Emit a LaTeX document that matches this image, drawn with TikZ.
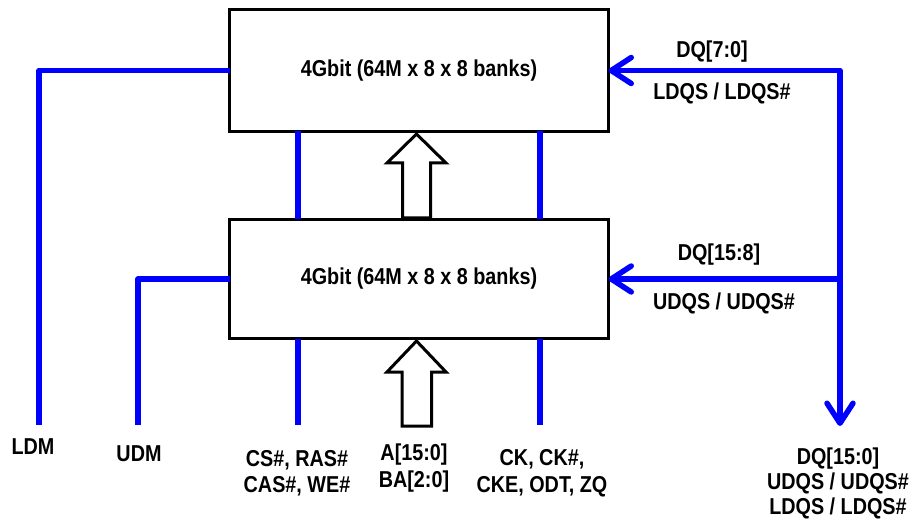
\documentclass[tikz,border=0pt]{standalone}
\usepackage{fontspec}
\setmainfont{Liberation Sans}[FakeStretch=0.86]
\usetikzlibrary{arrows.meta}
\definecolor{sigblue}{RGB}{0,0,255}
\begin{document}
\begin{tikzpicture}[x=1pt,y=-1pt,
  chip/.style={draw=black, line width=3pt, minimum width=379pt, inner sep=0pt, outer sep=0pt,
    font=\fontsize{23}{26}\selectfont\bfseries},
  sig/.style={draw=sigblue, line width=5.5pt, line join=round},
  lbl/.style={font=\fontsize{23}{26.5}\selectfont\bfseries, align=center, inner sep=0pt},
  >={Straight Barb[length=20pt,width=26pt,line cap=round,line join=round]},
  hollow/.style={draw=black, line width=3pt, fill=white, line join=miter}
]
\useasboundingbox (0,0) rectangle (914,532);

\node[chip, minimum height=122pt] (top) at (419,70.5) {4Gbit (64M x 8 x 8 banks)};
\node[chip, minimum height=119pt] (bot) at (419,279) {4Gbit (64M x 8 x 8 banks)};

% coordinates
\coordinate (ldm) at (39,425);
\coordinate (udm) at (138,425);
\coordinate (c1) at (298,425);
\coordinate (c2) at (540,425);
\coordinate (dqc) at (840,70.5);
\coordinate (dqend) at (840,426);
\coordinate (dqb) at (837,279);

% blue signals
\draw[sig] (top.west) -| (ldm);
\draw[sig] (bot.west) -| (udm);
\draw[sig] (top.south -| c1) -- (bot.north -| c1);
\draw[sig] (top.south -| c2) -- (bot.north -| c2);
\draw[sig] (bot.south -| c1) -- (c1);
\draw[sig] (bot.south -| c2) -- (c2);
\draw[sig, <->] (top.east) -- (dqc) -- (dqend);
\draw[sig, <-] (bot.east) -- (dqb);

% hollow arrows
\draw[hollow] (416.5,134) -- (446,163) -- (430.5,163) -- (430.5,218) -- (402.5,218) -- (402.5,163) -- (387,163) -- cycle;
\draw[hollow] (416.5,341) -- (446,372) -- (431.5,372) -- (431.5,426) -- (402,426) -- (402,372) -- (387,372) -- cycle;

% labels
\node[lbl] (l1) at (712,52) {DQ[7:0]};
\node[lbl] (l2) at (722,93.5) {LDQS / LDQS\#};
\node[lbl] (l3) at (719,255) {DQ[15:8]};
\node[lbl] (l4) at (724,303) {UDQS / UDQS\#};
\node[lbl, font=\fontsize{23}{25}\selectfont\bfseries] (l5) at (838,483) {DQ[15:0]\\UDQS / UDQS\#\\LDQS / LDQS\#};
\node[lbl] (l6) at (33,447) {LDM};
\node[lbl] (l7) at (139,453.5) {UDM};
\node[lbl] (l8) at (297,473) {CS\#, RAS\#\\CAS\#, WE\#};
\node[lbl] (l9) at (414,468) {A[15:0]\\BA[2:0]};
\node[lbl] (l10) at (542,473) {CK, CK\#,\\CKE, ODT, ZQ};
\end{tikzpicture}
\end{document}
